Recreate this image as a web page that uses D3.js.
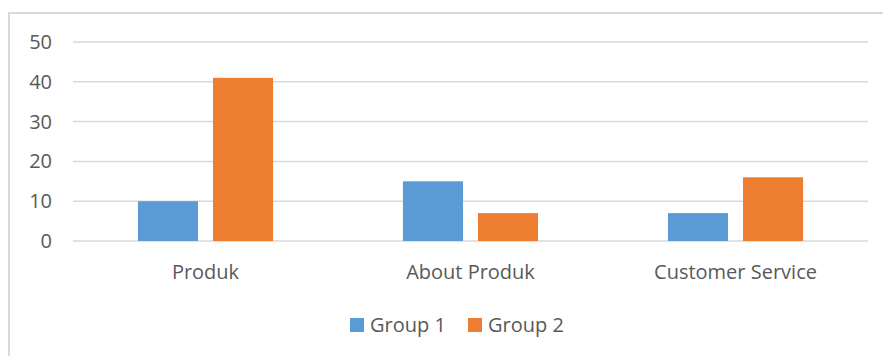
<!DOCTYPE html>
<html>
<head>
<meta charset="utf-8">
<script src="https://cdn.jsdelivr.net/npm/d3@7"></script>
<style>
  body { margin: 0; background: #fff; }
  svg text { font-family: "Open Sans", "Noto Sans", sans-serif; }
</style>
</head>
<body>
<div id="chart"></div>
<script>
const categories = ['Produk', 'About Produk', 'Customer Service'];
const groups = ['Group 1', 'Group 2'];
const group1 = [10, 15, 7];
const group2 = [41, 7, 16];
const yTicks = [0, 10, 20, 30, 40, 50];
const colors = ['#5b9bd5', '#ed7d31'];

const W = 883, H = 356;
const svg = d3.select('#chart').append('svg').attr('width', W).attr('height', H);

// Chart frame (cut at right/bottom in the reference)
svg.append('rect')
    .attr('x', 9).attr('y', 13).attr('width', 1000).attr('height', 500)
    .attr('fill', 'none').attr('stroke', '#d9d9d9').attr('stroke-width', 2);

const plotLeft = 73, plotRight = 868, plotTop = 42, plotBottom = 241;

const x0 = d3.scaleBand().domain(categories).range([plotLeft, plotRight]);
const x1 = d3.scaleBand().domain(groups).range([0, x0.bandwidth()])
    .paddingInner(0.2).paddingOuter(0.865);
const y = d3.scaleLinear().domain([0, 50]).range([plotBottom, plotTop]);

// Gridlines
svg.append('g')
    .selectAll('line')
    .data(yTicks)
    .enter()
    .append('line')
    .attr('x1', plotLeft).attr('x2', plotRight)
    .attr('y1', d => y(d)).attr('y2', d => y(d))
    .attr('stroke', '#d9d9d9').attr('stroke-width', 1.5);

// Y tick labels
svg.append('g')
    .selectAll('text')
    .data(yTicks)
    .enter()
    .append('text')
    .attr('x', 52)
    .attr('y', d => y(d))
    .attr('dy', '0.35em')
    .attr('text-anchor', 'end')
    .attr('fill', '#595959')
    .style('font-size', '20px')
    .text(d => d);

// Bars
const series = [group1, group2];
const rows = categories.map((c, i) => ({ cat: c, vals: groups.map((g, j) => ({ g, j, v: series[j][i] })) }));

const cat = svg.append('g')
    .selectAll('g')
    .data(rows)
    .enter()
    .append('g')
    .attr('transform', d => `translate(${x0(d.cat)},0)`);

cat.selectAll('rect')
    .data(d => d.vals)
    .enter()
    .append('rect')
    .attr('x', d => x1(d.g))
    .attr('y', d => y(d.v))
    .attr('width', x1.bandwidth())
    .attr('height', d => y(0) - y(d.v))
    .attr('fill', d => colors[d.j]);

// Category labels
svg.append('g')
    .selectAll('text')
    .data(categories)
    .enter()
    .append('text')
    .attr('x', d => x0(d) + x0.bandwidth() / 2)
    .attr('y', 272)
    .attr('dy', '0.35em')
    .attr('text-anchor', 'middle')
    .attr('fill', '#595959')
    .style('font-size', '20px')
    .text(d => d);

// Legend
const legendX = [350, 468];
const legend = svg.append('g')
    .selectAll('g')
    .data(groups)
    .enter()
    .append('g')
    .attr('transform', (d, i) => `translate(${legendX[i]},318)`);

legend.append('rect')
    .attr('width', 14).attr('height', 14)
    .attr('fill', (d, i) => colors[i]);

legend.append('text')
    .attr('x', 20).attr('y', 7)
    .attr('dy', '0.35em')
    .attr('fill', '#595959')
    .style('font-size', '20px')
    .text(d => d);
</script>
</body>
</html>
